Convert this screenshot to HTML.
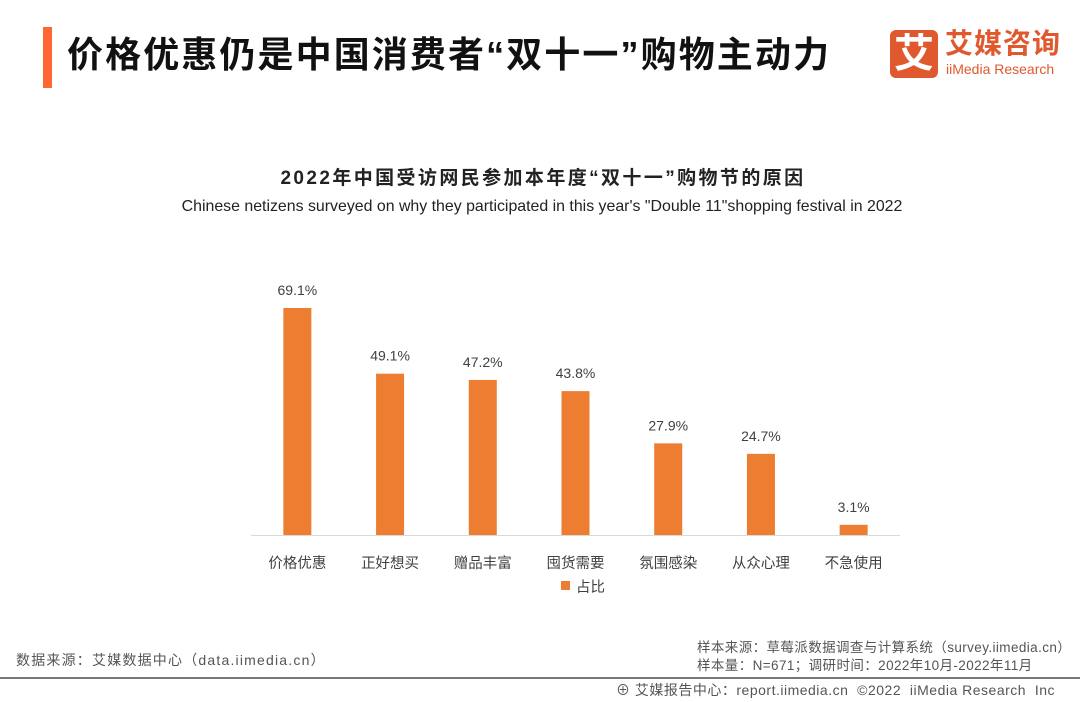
<!DOCTYPE html>
<html><head><meta charset="utf-8"><style>
body{margin:0;width:1080px;height:702px;background:#fff;overflow:hidden;position:relative;font-family:"Liberation Sans","Noto Sans CJK SC",sans-serif;}
.a{position:absolute;white-space:nowrap;}
</style></head><body>
<div class="a" style="left:43px;top:27px;width:9px;height:61px;background:#FF6633"></div>
<div class="a" style="left:67px;top:33px;font-size:36px;line-height:44px;font-weight:bold;color:#111;letter-spacing:2.1px">价格优惠仍是中国消费者“双十一”购物主动力</div>
<div class="a" style="left:890px;top:30px;width:175px;height:50px">
  <div style="position:absolute;left:0;top:0;width:48px;height:48px;background:#E0582E;border-radius:6px;color:#fff;font-size:40px;line-height:48px;text-align:center;font-weight:bold">艾</div>
  <div style="position:absolute;left:55px;top:-2px;font-size:28px;line-height:32px;color:#E0582E;font-weight:bold;letter-spacing:1px">艾媒咨询</div>
  <div style="position:absolute;left:56px;top:31px;font-size:14px;line-height:16px;color:#E0582E">iiMedia Research</div>
</div>
<div class="a" style="left:0;width:1086px;text-align:center;top:163px;font-size:19px;font-weight:bold;color:#222;letter-spacing:2.4px">2022年中国受访网民参加本年度“双十一”购物节的原因</div>
<div class="a" style="left:0;width:1084px;text-align:center;top:198px;font-size:15.9px;color:#222">Chinese netizens surveyed on why they participated in this year's "Double 11"shopping festival in 2022</div>
<svg class="a" style="left:0;top:0" width="1080" height="702" id="chart"></svg>
<div class="a" style="left:16px;top:650px;font-size:14px;color:#555;letter-spacing:1.2px">数据来源：艾媒数据中心（data.iimedia.cn）</div>
<div class="a" style="left:697px;top:639px;font-size:13.5px;color:#555;line-height:18px;letter-spacing:0.4px">样本来源：草莓派数据调查与计算系统（survey.iimedia.cn）<br>样本量：N=671；调研时间：2022年10月-2022年11月</div>
<div class="a" style="left:0;top:677px;width:1080px;height:2px;background:#777"></div>
<div class="a" style="left:616px;top:680px;font-size:14px;color:#555;letter-spacing:0.5px">⊕ 艾媒报告中心：report.iimedia.cn &nbsp;©2022 &nbsp;iiMedia Research &nbsp;Inc</div>
<script>
const categories=["价格优惠","正好想买","赠品丰富","囤货需要","氛围感染","从众心理","不急使用"];
const values=[69.1,49.1,47.2,43.8,27.9,24.7,3.1];
const valueLabels=["69.1%","49.1%","47.2%","43.8%","27.9%","24.7%","3.1%"];
const legendLabel="占比";
const svg=document.getElementById('chart');const NS="http://www.w3.org/2000/svg";
const x0=251,x1=900,base=535,scale=227/69.1,bw=28;
const step=(x1-x0)/categories.length;
const xc=i=>x0+step*(i+0.5);const y=v=>base-v*scale;
function mk(t,a){const e=document.createElementNS(NS,t);for(const k in a)e.setAttribute(k,a[k]);svg.appendChild(e);return e;}
const ax=mk('line',{x1:x0,x2:x1,y1:base+0.5,y2:base+0.5,stroke:'#d9d9d9','stroke-width':1});


categories.forEach((c,i)=>{
 const r=mk('rect',{x:xc(i)-bw/2,y:y(values[i]),width:bw,height:values[i]*scale,fill:'#ED7D31'});
 
 
 const t=mk('text',{x:xc(i),y:y(values[i])-13,'text-anchor':'middle','font-size':14,fill:'#404040'});t.textContent=valueLabels[i];
 
 
 const l=mk('text',{x:xc(i),y:568,'text-anchor':'middle','font-size':14.5,fill:'#404040'});l.textContent=c;
 
 
});
const ls=mk('rect',{x:561,y:581,width:9,height:9,fill:'#ED7D31'});


const lt=mk('text',{x:576,y:592,'font-size':14.5,fill:'#404040'});lt.textContent=legendLabel;


</script>
</body></html>
